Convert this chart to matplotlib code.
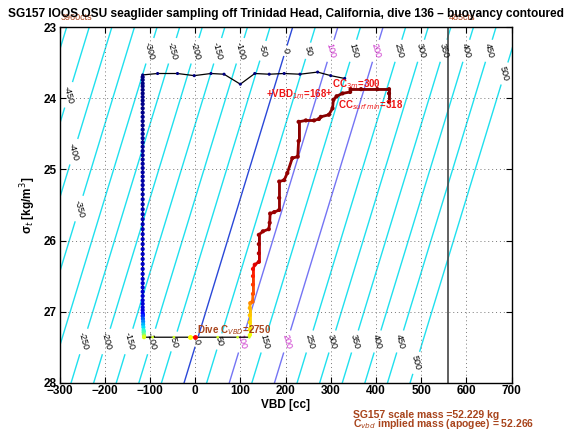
import numpy as np
import matplotlib
matplotlib.use("Agg")
import matplotlib.pyplot as plt
from matplotlib.collections import LineCollection

plt.rcParams['font.family'] = ['Liberation Sans', 'DejaVu Sans']
plt.rcParams['axes.unicode_minus'] = True

# ---------------- data ----------------
# surface start (pump -> bleed), right to left
start_vbd = [331, 300, 271, 232, 197, 164, 132, 100, 64, 35, -2, -39, -83, -116]
start_sig = [23.72, 23.68, 23.63, 23.66, 23.65, 23.66, 23.65, 23.80, 23.66, 23.65, 23.68, 23.65, 23.65, 23.67]

# descent at constant VBD
desc_sig = [23.70, 23.74, 23.79, 23.83, 23.88, 23.93, 23.98, 24.03, 24.08, 24.14, 24.20, 24.26,
            24.32, 24.38, 24.44, 24.50, 24.56, 24.62, 24.68, 24.74, 24.80, 24.86, 24.92, 24.98,
            25.04, 25.10, 25.16, 25.22, 25.28, 25.35, 25.42, 25.49, 25.56, 25.63, 25.70, 25.77,
            25.84, 25.91, 25.98, 26.05, 26.12, 26.19, 26.26, 26.33, 26.40, 26.47, 26.54, 26.60,
            26.66, 26.72, 26.78, 26.84, 26.89, 26.94, 26.98]
desc_vbd = [-116] * len(desc_sig)

# deep part of descent (colour changes with time)
deep_vbd = [-116, -116, -115.5, -115, -115, -114.5, -114, -114, -113.5, -113, -113, -113]
deep_sig = [27.02, 27.06, 27.10, 27.14, 27.18, 27.22, 27.26, 27.29, 27.32, 27.34, 27.35, 27.36]

# apogee pump
apo_vbd = [-94, -47, -11, 50, 94, 120]
apo_sig = [27.36, 27.36, 27.36, 27.36, 27.36, 27.36]

# ascent
asc_vbd = [121, 121, 121, 121, 121, 122, 127, 128, 128, 128, 128, 132, 141, 141, 141, 141,
           150, 163, 165, 166, 175, 186, 186, 186, 197, 204, 215, 227, 229, 229, 245, 263,
           274, 278, 296, 304, 306, 313, 326, 343, 344, 367, 403, 429, 429, 429]
asc_sig = [27.33, 27.25, 27.15, 27.05, 26.95, 26.88, 26.86, 26.75, 26.62, 26.50, 26.40, 26.34,
           26.30, 26.18, 26.05, 25.92, 25.87, 25.84, 25.75, 25.62, 25.60, 25.57, 25.40, 25.17,
           25.15, 25.05, 24.84, 24.82, 24.60, 24.33, 24.31, 24.31, 24.29, 24.26, 24.23, 24.14,
           24.02, 23.97, 23.93, 23.91, 23.87, 23.87, 23.87, 23.87, 23.93, 24.05]

# buoyancy model (g) : neutral VBD at sigma 28 and slope per kg/m^3
vbd_neutral_28 = -24.3
vbd_per_sigma = 48.0
levels = np.arange(-500, 501, 50)

vbd_ctr = 559
ticks_x = [-300, -200, -100, 0, 100, 200, 300, 400, 500, 600, 700]
ticks_y = [23, 24, 25, 26, 27, 28]

brown = '#a8441c'
red = '#ee1515'

# ---------------- figure ----------------
fig = plt.figure(figsize=(5.7, 4.32), dpi=100)
ax = fig.add_axes([0.1044, 0.1141, 0.793, 0.8227])

V, S = np.meshgrid(np.linspace(-450, 900, 400), np.linspace(22.5, 28.5, 200))
B = V - (vbd_neutral_28 + vbd_per_sigma * (28 - S))
lcolors = []
for L in levels:
    if L == 0:
        lcolors.append('#2a48d8')
    elif L in (100, 200):
        lcolors.append('#7474f4')
    else:
        lcolors.append('#1fe0ee')
cs = ax.contour(V, S, B, levels=levels, colors=lcolors, linewidths=1.0, zorder=1)

def lab_pos(L, s):
    return (vbd_neutral_28 + vbd_per_sigma * (28 - s) + L, s)

manual = []
for L in range(-300, 451, 50):
    manual.append(lab_pos(L, 23.33))
for L in range(-250, 451, 50):
    manual.append(lab_pos(L, 27.42))
manual += [lab_pos(-450, 23.95), lab_pos(-400, 24.75), lab_pos(-350, 25.55),
           lab_pos(500, 23.65), lab_pos(500, 27.72)]
cl = ax.clabel(cs, inline=True, fontsize=6.5, manual=manual, fmt='%d', inline_spacing=2)
for t in cl:
    txt = t.get_text().replace('\u2212', '-')
    t.set_color('#cc33cc' if txt in ('100', '200') else 'black')

ax.axvline(vbd_ctr, color='#444444', lw=1.2, zorder=2)

# trajectory
all_v = start_vbd + desc_vbd + deep_vbd + apo_vbd + asc_vbd
all_s = start_sig + desc_sig + deep_sig + apo_sig + asc_sig
ax.plot(all_v, all_s, color='black', lw=0.9, zorder=3)

jet = matplotlib.colormaps['jet']
c_start = [0.0] * len(start_vbd)
c_desc = list(np.linspace(0.0, 0.08, len(desc_sig)))
c_deep = list(np.linspace(0.12, 0.62, len(deep_sig)))
c_apo = [0.6] * len(apo_vbd)
n_asc = len(asc_vbd)
c_asc = list(np.interp(np.arange(n_asc), [0, 4, 6, 10, 14, n_asc - 1], [0.64, 0.72, 0.8, 0.9, 0.97, 1.0]))

ax.scatter(start_vbd, start_sig, s=5, c=jet(c_start), zorder=4, linewidths=0)
ax.scatter(desc_vbd, desc_sig, s=9, c=jet(c_desc), zorder=4, linewidths=0)
pts = np.column_stack([deep_vbd, deep_sig])
ax.add_collection(LineCollection(np.stack([pts[:-1], pts[1:]], axis=1), colors=jet(c_deep[:-1]), lw=2, zorder=4))
ax.scatter(deep_vbd, deep_sig, s=9, c=jet(c_deep), zorder=4, linewidths=0)
ax.scatter(apo_vbd, apo_sig, s=4, c=jet(c_apo), zorder=4, linewidths=0)
pts = np.column_stack([asc_vbd, asc_sig])
ax.add_collection(LineCollection(np.stack([pts[:-1], pts[1:]], axis=1), colors=jet(c_asc[:-1]), lw=2, zorder=4))
ax.scatter(asc_vbd, asc_sig, s=9, c=jet(c_asc), zorder=5, linewidths=0)
ax.plot([-11], [27.36], 'o', color='yellow', ms=2.5, zorder=6)
ax.plot([0], [27.36], 'o', color='red', ms=2.5, zorder=6)

# annotations
ax.text(156, 23.99, '+VBD$_{1m}$=168', color=red, fontsize=7, fontweight='bold', va='baseline', zorder=7)
ax.text(296, 23.97, '+', color=red, fontsize=7, fontweight='bold', va='baseline', ha='center', zorder=7)
ax.text(303, 23.84, 'CC$_{3m}$=300', color=red, fontsize=7, fontweight='bold', va='baseline', zorder=7)
ax.text(316, 24.14, 'CC$_{surf\\,min}$=318', color=red, fontsize=7, fontweight='bold', va='baseline', zorder=7)
ax.text(5, 27.30, 'Dive C$_{VBD}$=2750', color=brown, fontsize=7, fontweight='bold', va='baseline', zorder=7)

ax.set_xlim(-300, 700)
ax.set_ylim(28, 23)
ax.set_xticks(ticks_x)
ax.set_yticks(ticks_y)
ax.set_xticklabels([str(t).replace('-', '\u2212') for t in ticks_x], fontweight='bold', fontsize=8.5)
ax.set_yticklabels([str(t) for t in ticks_y], fontweight='bold', fontsize=8.5)
ax.tick_params(direction='in', top=True, right=True, length=4, width=0.8, pad=2)
ax.grid(True, linestyle=(0, (1, 3)), color='#777777', lw=0.7)
for sp in ax.spines.values():
    sp.set_linewidth(1.0)
ax.set_xlabel('VBD [cc]', fontweight='bold', fontsize=8.5, labelpad=1)
ax.set_ylabel('σ$_t$ [kg/m$^3$]', fontweight='bold', fontsize=8.5, labelpad=4)

fig.text(8 / 570, 1 - 17 / 432, 'SG157 IOOS OSU seaglider sampling off Trinidad Head, California, dive 136 \u2013 buoyancy contoured',
         fontsize=8.6, fontweight='bold', ha='left', va='baseline')
ax.annotate('3960cts', xy=(-300, 1.0), xycoords=('data', 'axes fraction'), xytext=(1, 4), textcoords='offset points',
            color=brown, fontsize=6.5, va='bottom', ha='left')
ax.annotate('485cts', xy=(vbd_ctr, 1.0), xycoords=('data', 'axes fraction'), xytext=(1, 4), textcoords='offset points',
            color=brown, fontsize=6.5, va='bottom', ha='left')
fig.text(353 / 570, 1 - 418 / 432, 'SG157 scale mass =52.229 kg', color=brown, fontsize=7.5, fontweight='bold', va='baseline')
fig.text(353 / 570, 1 - 427 / 432, 'C$_{vbd}$ implied mass (apogee) = 52.266', color=brown, fontsize=7.5, fontweight='bold', va='baseline')

fig.savefig('out.png', dpi=100)
